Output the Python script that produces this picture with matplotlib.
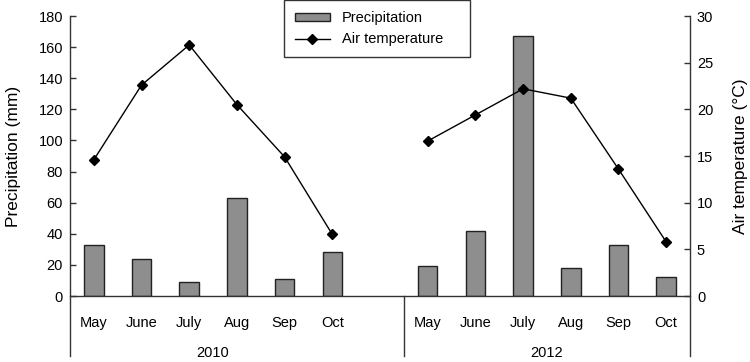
import numpy as np
import matplotlib
matplotlib.use('Agg')
import matplotlib.pyplot as plt
import matplotlib.transforms as mtransforms

# 데이터
months = ['May', 'June', 'July', 'Aug', 'Sep', 'Oct']
years = ['2010', '2012']
precip_2010 = [33, 24, 9, 63, 11, 28]
precip_2012 = [19, 42, 167, 18, 33, 12]
temp_2010 = [14.6, 22.6, 26.9, 20.5, 14.9, 6.6]
temp_2012 = [16.6, 19.4, 22.2, 21.2, 13.6, 5.8]

plt.rcParams['font.family'] = ['Liberation Sans', 'DejaVu Sans']

x_2010 = np.arange(len(months))
x_2012 = np.arange(len(months)) + len(months) + 1

fig = plt.figure(figsize=(7.5, 3.62), dpi=100)
ax = fig.add_axes([70 / 750, 1 - 296 / 362, 620 / 750, 280 / 362])
ax2 = ax.twinx()

bar_kw = dict(width=0.41, color='#8e8e8e', edgecolor='#222222', linewidth=1.0, zorder=2)
bars = ax.bar(x_2010, precip_2010, **bar_kw)
ax.bar(x_2012, precip_2012, **bar_kw)

line_kw = dict(color='black', linewidth=1.0, marker='D', markersize=5, zorder=3)
line, = ax2.plot(x_2010, temp_2010, **line_kw)
ax2.plot(x_2012, temp_2012, **line_kw)

ax.set_xlim(-0.5, 12.5)
ax.set_ylim(0, 180)
ax2.set_ylim(0, 30)
ax.set_yticks(np.arange(0, 181, 20))
ax2.set_yticks(np.arange(0, 31, 5))
ax.set_xticks([])

for a in (ax, ax2):
    for side in ('top', 'left', 'right'):
        a.spines[side].set_visible(False)
    a.spines['bottom'].set_color('#333333')
    a.spines['bottom'].set_linewidth(1.0)
ax2.spines['bottom'].set_visible(False)

ax.tick_params(axis='y', direction='in', length=4, width=1, color='#333333', labelsize=10.5, pad=5)
ax2.tick_params(axis='y', direction='in', length=4, width=1, color='#333333', labelsize=10.5, pad=5)

# 세로 축선 (아래로 연장)
ext = -60 / 280
for xpos in (0.0, 1.0):
    ax.plot([xpos, xpos], [ext, 1], transform=ax.transAxes, color='#333333',
            linewidth=1.0, clip_on=False, zorder=5)
trans = mtransforms.blended_transform_factory(ax.transData, ax.transAxes)
ax.plot([6.5, 6.5], [ext, 0], transform=trans, color='#333333', linewidth=1.0, clip_on=False)

# 월/연도 라벨
for i, m in enumerate(months):
    ax.text(x_2010[i], -27 / 280, m, transform=trans, ha='center', va='center', fontsize=10.5)
    ax.text(x_2012[i], -27 / 280, m, transform=trans, ha='center', va='center', fontsize=10.5)
ax.text(x_2010.mean(), -57 / 280, years[0], transform=trans, ha='center', va='center', fontsize=10.5)
ax.text(x_2012.mean(), -57 / 280, years[1], transform=trans, ha='center', va='center', fontsize=10.5)

ax.set_ylabel('Precipitation (mm)', fontsize=12.5)
ax.yaxis.set_label_coords(-49 / 620, 0.5)
ax2.set_ylabel('Air temperature (°C)', fontsize=12.5, rotation=90)
ax2.yaxis.set_label_coords(663 / 620, 0.5)

leg = fig.legend([bars, line], ['Precipitation', 'Air temperature'],
                 loc='upper left', bbox_to_anchor=(284 / 750, 1 - 57 / 362, 186 / 750, 57 / 362),
                 mode='expand', fancybox=False, framealpha=1, edgecolor='#333333',
                 fontsize=10.5, handlelength=2.4, handleheight=0.5,
                 borderpad=0.75, labelspacing=0.5, handletextpad=0.8, borderaxespad=0)
leg.get_frame().set_linewidth(1.0)

fig.savefig('out.png', dpi=100)
